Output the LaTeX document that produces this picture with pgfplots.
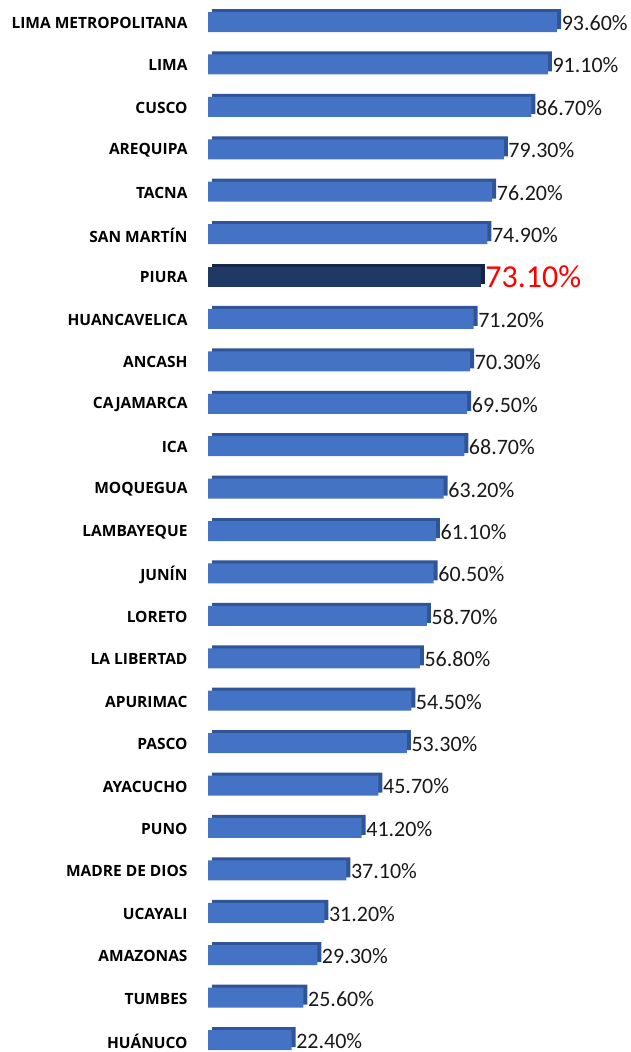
\documentclass[border=0pt]{standalone}
\usepackage{pgfplots}
\pgfplotsset{compat=1.18}
\usepackage{pgfplotstable}
\usepackage{fontspec}
\setmainfont{Carlito}
\newfontfamily\catfont{Open Sans}
\definecolor{barblue}{HTML}{4472C4}
\definecolor{barside}{HTML}{2F5597}
\definecolor{piura}{HTML}{203864}
\definecolor{piuraside}{HTML}{14254A}
\pgfplotstableread{
idx val
0 93.6
1 91.1
2 86.7
3 79.3
4 76.2
5 74.9
7 71.2
8 70.3
9 69.5
10 68.7
11 63.2
12 61.1
13 60.5
14 58.7
15 56.8
16 54.5
17 53.3
18 45.7
19 41.2
20 37.1
21 31.2
22 29.3
23 25.6
24 22.4
}\main
\pgfplotstableread{
idx val
6 73.1
}\piuratab
\begin{document}
\begin{tikzpicture}
\begin{axis}[
  at={(208pt,12pt)}, anchor=south west,
  scale only axis, width=373pt, height=1018pt,
  xmin=0, xmax=100, ymin=0, ymax=24,
  y dir=reverse, clip=false,
  xbar, bar width=20pt, bar shift=0pt,
  axis line style={draw=none},
  major tick length=0pt,
  xtick=\empty,
  ytick={0,...,24},
  yticklabels={LIMA METROPOLITANA, LIMA, CUSCO, AREQUIPA, TACNA, SAN MARTÍN, PIURA, HUANCAVELICA, ANCASH, CAJAMARCA, ICA, MOQUEGUA, LAMBAYEQUE, JUNÍN, LORETO, LA LIBERTAD, APURIMAC, PASCO, AYACUCHO, PUNO, MADRE DE DIOS, UCAYALI, AMAZONAS, TUMBES, HUÁNUCO},
  yticklabel style={font=\catfont\bfseries\fontsize{15.5}{17}\selectfont, anchor=east, xshift=-17pt, yshift=-1pt},
  /pgf/number format/assume math mode=true,
]
\addplot[fill=barside, draw=none, xshift=4pt, yshift=3pt] table[x=val,y=idx]{\main};
\addplot[fill=barblue, draw=none,
  nodes near coords={\pgfmathprintnumber[fixed,fixed zerofill,precision=2]{\pgfplotspointmeta}\%},
  point meta=x,
  every node near coord/.append style={anchor=west, xshift=4pt, yshift=-1pt, font=\fontsize{22}{24}\selectfont, text=black!90, inner sep=0.5pt}
] table[x=val,y=idx]{\main};
\addplot[fill=piuraside, draw=none, xshift=4pt, yshift=3pt] table[x=val,y=idx]{\piuratab};
\addplot[fill=piura, draw=none,
  nodes near coords={\pgfmathprintnumber[fixed,fixed zerofill,precision=2]{\pgfplotspointmeta}\%},
  point meta=x,
  every node near coord/.append style={anchor=west, xshift=4pt, font=\fontsize{32}{34}\selectfont, text=red, inner sep=0.5pt}
] table[x=val,y=idx]{\piuratab};
\end{axis}
\pgfresetboundingbox
\path (0,0) rectangle (630pt,1052pt);
\end{tikzpicture}
\end{document}
